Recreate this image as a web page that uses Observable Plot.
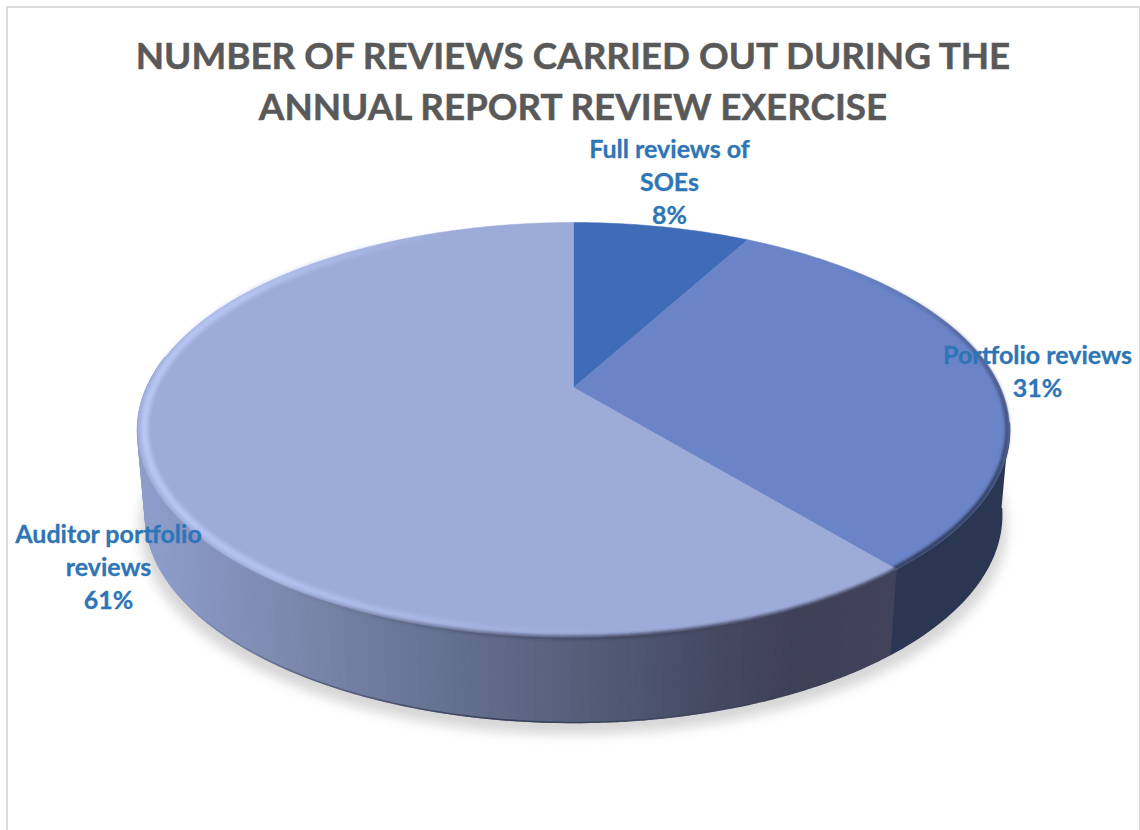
<!DOCTYPE html>
<html>
<head>
<meta charset="utf-8">
<script src="https://cdn.jsdelivr.net/npm/d3@7"></script>
<script src="https://cdn.jsdelivr.net/npm/@observablehq/plot@0.6"></script>
<style>
  html, body { margin: 0; background: #fff; overflow: hidden; }
  body { width: 1140px; height: 830px; position: relative; }
  #frame { position: absolute; left: 6px; top: 6px; width: 1131px; height: 900px; border: 2px solid #dcdcdc; }
  #title { position: relative; width: 1146px; height: 130px; text-align: center; box-sizing: border-box; padding-top: 30px;
           font: 700 36.8px/51px Lato, sans-serif; color: #595959; -webkit-text-stroke: 0.5px #595959; }
  #chart { position: relative; }
  svg { display: block; }
</style>
</head>
<body>
<div id="frame"></div>
<div id="title"></div>
<div id="chart"></div>
<script>
// Share of reviews by type, clockwise from twelve o'clock.
const titleLines = ["NUMBER OF REVIEWS CARRIED OUT DURING THE", "ANNUAL REPORT REVIEW EXERCISE"];
const categories = ["Full reviews of\nSOEs", "Portfolio reviews", "Auditor portfolio\nreviews"];
const shares = [8, 31, 61];
const sliceColors = ["#3f6bb7", "#6a84c7", "#9dabd8"];
const wallDark = "#2b3652";
const wallStops = [145, 300, 450, 570, 700, 800, 890];
const wallShades = ["#8d9dcb", "#7a86ab", "#64708f", "#55607c", "#464b64", "#3d4056", "#40435a"];
const labelX = [96, 464, -465];
const labelY = [-207, -18, 178];

// Perspective disc: chart units are measured from the pie's centre on screen, y downward.
const disc = {a: 426.8, b: 198.8, c: 0.2048, drop: 85, shrink: 0.018};
function project(deg, level = 0, r = 1) {
  const t = deg * Math.PI / 180;
  const u = r * Math.sin(t), v = r * Math.cos(t);
  const k = 1 + disc.c * v;
  return [disc.a * u / k * (1 - disc.shrink * level), -disc.b * v / k + disc.drop * level];
}
const degrees = (lo, hi, step = 1) => {
  const n = Math.max(1, Math.round((hi - lo) / step));
  return d3.range(n + 1).map(i => lo + (hi - lo) * i / n);
};

const total = d3.sum(shares);
const ends = d3.cumsum(shares).map(s => s / total * 360);
const starts = [0, ...ends.slice(0, -1)];

const slicePolygon = i => [[0, 0], ...degrees(starts[i], ends[i]).map(d => project(d)), [0, 0]];

// Wall strips, one per degree, so the shade can follow the horizontal position.
const frontWall = d3.pairs(degrees(ends[1], 279)).flatMap(([a, b], id) => {
  const pts = [project(a), project(b), project(b, 1), project(a, 1)];
  const shade = 573 + (pts[0][0] + pts[1][0]) / 2;
  return pts.map(p => ({x: p[0], y: p[1], id, shade}));
});
const rightSpan = degrees(100, ends[1]);
const rightWall = [...rightSpan.map(d => project(d)), ...[...rightSpan].reverse().map(d => project(d, 1))];

const shadow = degrees(0, 360, 2).map(d => {
  const [x, y] = project(d, 1);
  return [x * 1.012, y + 12];
});

// Short arc pieces with their own opacity: these soften the disc's rim.
const ramp = (deg, knots, values) => d3.scaleLinear().domain(knots).range(values).clamp(true)(deg);
const arc = (lo, hi, level, r, knots, values) => d3.pairs(degrees(lo, hi)).map(([a, b]) => {
  const [x1, y1] = project(a, level, r), [x2, y2] = project(b, level, r);
  return {x1, y1, x2, y2, o: ramp(a, knots, values)};
});
const highlight = arc(175, 340, 0, 0.985, [175, 215, 255, 300, 340], [0, 0.75, 1, 0.85, 0]);
const shadeRight = arc(45, ends[1], 0, 0.995, [45, 95, 120], [0, 0.65, 1]);
const shadeFront = arc(ends[1], 215, 0, 1.0, [ends[1], 175, 215], [1, 0.9, 0]);
const bottomEdge = arc(150, 235, 1, 1, [150, 185, 235], [0, 0.9, 0]);

const labels = categories.map((c, i) => ({text: `${c}\n${shares[i]}%`, x: labelX[i], y: labelY[i]}));

d3.select("#title").html(titleLines.join("<br>"));

const rim = (data, stroke, width, blur) => Plot.link(data, {
  x1: "x1", y1: "y1", x2: "x2", y2: "y2", stroke, strokeWidth: width,
  strokeOpacity: "o", imageFilter: `blur(${blur}px)`
});

const chart = Plot.plot({
  width: 1140,
  height: 700,
  margin: 0,
  style: {background: "transparent"},
  x: {domain: [-573, 567], range: [0, 1140], axis: null},
  y: {domain: [-257, 443], range: [0, 700], axis: null},
  color: {type: "linear", domain: wallStops, range: wallShades, interpolate: "rgb", clamp: true},
  opacity: {domain: [0, 1], range: [0, 1]},
  marks: [
    Plot.line(shadow, {x: d => d[0], y: d => d[1], fill: "#d6d6d6", stroke: "none", imageFilter: "blur(6px)"}),
    Plot.line(rightWall, {x: d => d[0], y: d => d[1], fill: wallDark, stroke: wallDark}),
    Plot.line(frontWall, {x: "x", y: "y", z: "id", fill: "shade", stroke: "shade", strokeWidth: 1.4}),
    rim(bottomEdge, "#343a52", 1.6, 0.4),
    ...shares.map((_, i) => Plot.line(slicePolygon(i), {
      x: d => d[0], y: d => d[1], fill: sliceColors[i], stroke: sliceColors[i], strokeWidth: 0.5
    })),
    rim(highlight, "#bccbf8", 7, 2),
    rim(shadeRight, wallDark, 4, 1.6),
    rim(shadeFront, "#40435a", 4, 1.6),
    Plot.text(labels, {
      x: "x", y: "y", text: "text", lineHeight: 1.32, lineAnchor: "middle", textAnchor: "middle",
      fontFamily: "Lato, sans-serif", fontWeight: 700, fontSize: 25, fill: "#2e75b6",
      stroke: "#2e75b6", strokeWidth: 0.3
    })
  ]
});
document.getElementById("chart").append(chart);
</script>
</body>
</html>
